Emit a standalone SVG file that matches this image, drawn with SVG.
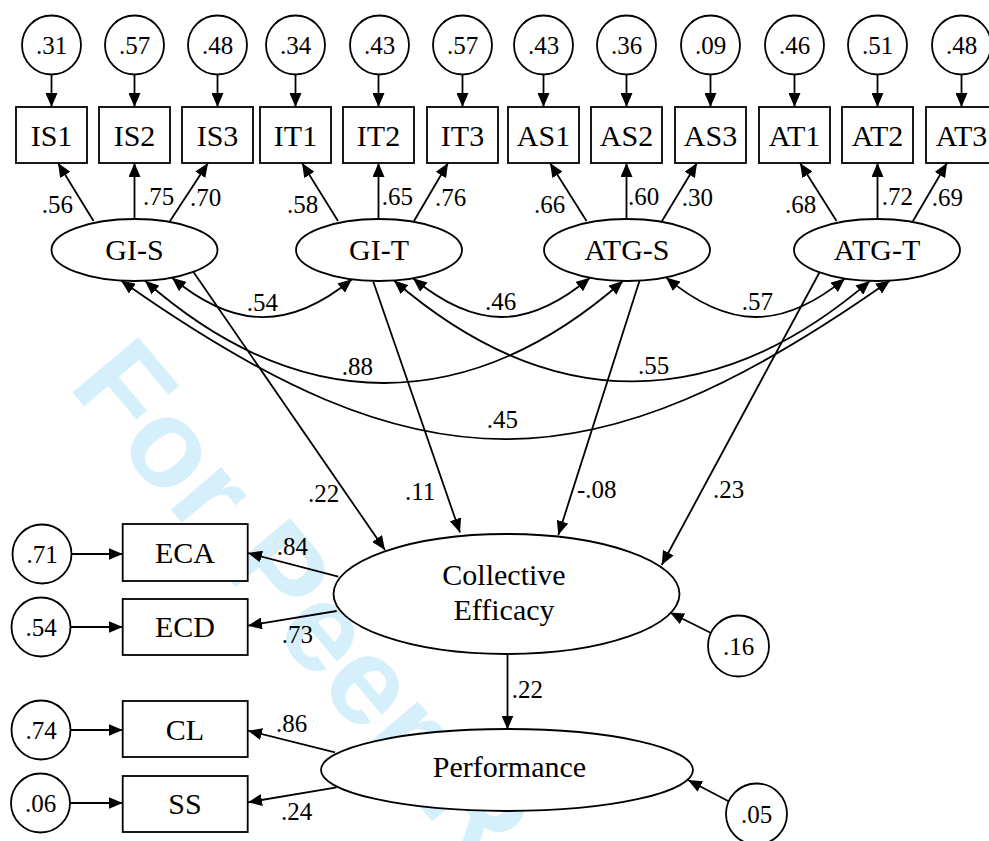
<svg xmlns="http://www.w3.org/2000/svg" width="989" height="841" viewBox="0 0 989 841">
  <defs>
    <marker id="arrow" viewBox="0 0 14 12" refX="14" refY="6" markerWidth="14" markerHeight="12" markerUnits="userSpaceOnUse" orient="auto-start-reverse">
      <path d="M0,0 L14,6 L0,12 z" fill="#000"/>
    </marker>
  </defs>
  <style>
    .node { fill: #fff; stroke: #000; stroke-width: 1.8; }
    text { font-family: 'Liberation Serif', 'Times New Roman', Tinos, 'DejaVu Serif', serif; fill: #000; }
    .big { font-size: 30px; text-anchor: middle; }
    .num { font-size: 25px; }
    .mid { text-anchor: middle; }
    .edge { fill: none; stroke: #000; stroke-width: 1.8; marker-end: url(#arrow); }
    .cov { fill: none; stroke: #000; stroke-width: 1.8; marker-start: url(#arrow); marker-end: url(#arrow); }
    text.wm { font-family: 'Liberation Sans', Arial, sans-serif; font-weight: bold; font-size: 125px; fill: #d6f0fb; }
  </style>

  <rect width="989" height="841" fill="#fff"/>

  <!-- review watermark, drawn beneath everything -->
  <text class="wm" transform="translate(67,386) rotate(50)">For Peer Review</text>

  <!-- connectors -->
  <g id="connectors">
    <!-- error terms into indicators -->
    <path class="edge" d="M51.5,75 V107"/>
    <path class="edge" d="M134.5,75 V107"/>
    <path class="edge" d="M217.5,75 V107"/>
    <path class="edge" d="M295.5,75 V107"/>
    <path class="edge" d="M378.5,75 V107"/>
    <path class="edge" d="M462.5,75 V107"/>
    <path class="edge" d="M543.5,75 V107"/>
    <path class="edge" d="M626.5,75 V107"/>
    <path class="edge" d="M710.5,75 V107"/>
    <path class="edge" d="M794.5,75 V107"/>
    <path class="edge" d="M877.5,75 V107"/>
    <path class="edge" d="M961.5,75 V107"/>

    <!-- factor loadings -->
    <path class="edge" d="M93.5,221 L58,163"/>
    <path class="edge" d="M134.5,219 V163"/>
    <path class="edge" d="M170,221 L208,163"/>
    <path class="edge" d="M338,221 L302,163"/>
    <path class="edge" d="M378.5,219 V163"/>
    <path class="edge" d="M414,221 L448,163"/>
    <path class="edge" d="M586.5,221 L550,163"/>
    <path class="edge" d="M626.5,219 V163"/>
    <path class="edge" d="M662,221 L697,163"/>
    <path class="edge" d="M836.5,221 L800,163"/>
    <path class="edge" d="M877.5,219 V163"/>
    <path class="edge" d="M913,221 L947,163"/>

    <!-- factor covariances -->
    <path class="cov" d="M172,277.7 C235,330 290,330 352,279.3"/>
    <path class="cov" d="M413,278.3 C476,330 527,330 590,277.7"/>
    <path class="cov" d="M666,277.4 C729,330 782,330 845,278.6"/>
    <path class="cov" d="M145,280.8 C300,417 468,417 623,281"/>
    <path class="cov" d="M394,280.5 C550,415 714,415 870,280.9"/>
    <path class="cov" d="M121,280.6 C420,492 590,492 890,280.6"/>

    <!-- structural paths -->
    <path class="edge" d="M193.3,271.7 L385,550"/>
    <path class="edge" d="M373.3,281.7 L460,532.5"/>
    <path class="edge" d="M640,279.3 L558.3,535"/>
    <path class="edge" d="M819.3,272.7 L661.7,565"/>
    <path class="edge" d="M507.5,654 V729.5"/>

    <!-- disturbances -->
    <path class="edge" d="M711,633 L670,612.5"/>
    <path class="edge" d="M729,801.5 L688,780"/>

    <!-- outcome indicators -->
    <path class="edge" d="M338.3,576.7 L248,553"/>
    <path class="edge" d="M336.7,611 L248,625.7"/>
    <path class="edge" d="M335,752.3 L248,730.7"/>
    <path class="edge" d="M336.7,787.3 L248,802.3"/>

    <!-- outcome error terms -->
    <path class="edge" d="M71.5,554 H122.7"/>
    <path class="edge" d="M70.7,627 H122.7"/>
    <path class="edge" d="M70.5,730 H122.7"/>
    <path class="edge" d="M70,803 H122.7"/>
  </g>

  <!-- connector values -->
  <g id="values" class="num">
    <text class="num" x="41.7" y="213">.56</text>
    <text class="num" x="143" y="205">.75</text>
    <text class="num" x="190" y="206">.70</text>
    <text class="num" x="287" y="213">.58</text>
    <text class="num" x="381.7" y="205">.65</text>
    <text class="num" x="435" y="206">.76</text>
    <text class="num" x="534" y="213">.66</text>
    <text class="num" x="628" y="205">.60</text>
    <text class="num" x="681.7" y="206">.30</text>
    <text class="num" x="785" y="213">.68</text>
    <text class="num" x="881.7" y="205">.72</text>
    <text class="num" x="931.7" y="206">.69</text>

    <text class="num" x="246.7" y="310.7">.54</text>
    <text class="num" x="485" y="310">.46</text>
    <text class="num" x="741.7" y="310">.57</text>
    <text class="num" x="341.7" y="375">.88</text>
    <text class="num" x="638" y="374">.55</text>
    <text class="num" x="486.7" y="428">.45</text>

    <text class="num" x="308" y="501.7">.22</text>
    <text class="num" x="405" y="500">.11</text>
    <text class="num" x="577" y="498">-.08</text>
    <text class="num" x="713" y="498">.23</text>
    <text class="num" x="511.7" y="698">.22</text>

    <text class="num" x="276.7" y="555">.84</text>
    <text class="num" x="281.7" y="643">.73</text>
    <text class="num" x="276" y="731.7">.86</text>
    <text class="num" x="281" y="820">.24</text>
  </g>

  <!-- error terms of the indicators -->
  <g id="e-IS1"><circle class="node" cx="51.5" cy="45" r="29.5"/><text class="num mid" x="51.5" y="53.5">.31</text></g>
  <g id="e-IS2"><circle class="node" cx="134.5" cy="45" r="29.5"/><text class="num mid" x="134.5" y="53.5">.57</text></g>
  <g id="e-IS3"><circle class="node" cx="217.5" cy="45" r="29.5"/><text class="num mid" x="217.5" y="53.5">.48</text></g>
  <g id="e-IT1"><circle class="node" cx="295.5" cy="45" r="29.5"/><text class="num mid" x="295.5" y="53.5">.34</text></g>
  <g id="e-IT2"><circle class="node" cx="379.5" cy="45" r="29.5"/><text class="num mid" x="379.5" y="53.5">.43</text></g>
  <g id="e-IT3"><circle class="node" cx="462.5" cy="45" r="29.5"/><text class="num mid" x="462.5" y="53.5">.57</text></g>
  <g id="e-AS1"><circle class="node" cx="543.5" cy="45" r="29.5"/><text class="num mid" x="543.5" y="53.5">.43</text></g>
  <g id="e-AS2"><circle class="node" cx="626.5" cy="45" r="29.5"/><text class="num mid" x="626.5" y="53.5">.36</text></g>
  <g id="e-AS3"><circle class="node" cx="710.5" cy="45" r="29.5"/><text class="num mid" x="710.5" y="53.5">.09</text></g>
  <g id="e-AT1"><circle class="node" cx="794.5" cy="45" r="29.5"/><text class="num mid" x="794.5" y="53.5">.46</text></g>
  <g id="e-AT2"><circle class="node" cx="877.5" cy="45" r="29.5"/><text class="num mid" x="877.5" y="53.5">.51</text></g>
  <g id="e-AT3"><circle class="node" cx="961.5" cy="45" r="29.5"/><text class="num mid" x="961.5" y="53.5">.48</text></g>

  <!-- indicators -->
  <g id="IS1"><rect class="node" x="16" y="107" width="71" height="56"/><text class="big" x="51.5" y="146">IS1</text></g>
  <g id="IS2"><rect class="node" x="99" y="107" width="71" height="56"/><text class="big" x="134.5" y="146">IS2</text></g>
  <g id="IS3"><rect class="node" x="182" y="107" width="71" height="56"/><text class="big" x="217.5" y="146">IS3</text></g>
  <g id="IT1"><rect class="node" x="260" y="107" width="71" height="56"/><text class="big" x="295.5" y="146">IT1</text></g>
  <g id="IT2"><rect class="node" x="343" y="107" width="71" height="56"/><text class="big" x="378.5" y="146">IT2</text></g>
  <g id="IT3"><rect class="node" x="427" y="107" width="71" height="56"/><text class="big" x="462.5" y="146">IT3</text></g>
  <g id="AS1"><rect class="node" x="508" y="107" width="71" height="56"/><text class="big" x="543.5" y="146">AS1</text></g>
  <g id="AS2"><rect class="node" x="591" y="107" width="71" height="56"/><text class="big" x="626.5" y="146">AS2</text></g>
  <g id="AS3"><rect class="node" x="675" y="107" width="71" height="56"/><text class="big" x="710.5" y="146">AS3</text></g>
  <g id="AT1"><rect class="node" x="759" y="107" width="71" height="56"/><text class="big" x="794.5" y="146">AT1</text></g>
  <g id="AT2"><rect class="node" x="842" y="107" width="71" height="56"/><text class="big" x="877.5" y="146">AT2</text></g>
  <g id="AT3"><rect class="node" x="926" y="107" width="71" height="56"/><text class="big" x="961.5" y="146">AT3</text></g>

  <!-- latent factors -->
  <g id="GI-S"><ellipse class="node" cx="134.5" cy="250" rx="83" ry="31"/><text class="big" x="134.5" y="260">GI-S</text></g>
  <g id="GI-T"><ellipse class="node" cx="379" cy="250" rx="83" ry="31"/><text class="big" x="379" y="260">GI-T</text></g>
  <g id="ATG-S"><ellipse class="node" cx="627" cy="250" rx="83" ry="31"/><text class="big" x="627" y="260">ATG-S</text></g>
  <g id="ATG-T"><ellipse class="node" cx="877" cy="250" rx="83" ry="31"/><text class="big" x="877" y="260">ATG-T</text></g>

  <!-- outcomes -->
  <g id="CollectiveEfficacy">
    <ellipse class="node" cx="506.5" cy="594" rx="173" ry="60"/>
    <text class="big" x="504" y="585">Collective</text>
    <text class="big" x="504" y="620">Efficacy</text>
  </g>
  <g id="Performance">
    <ellipse class="node" cx="507" cy="770" rx="186" ry="41"/>
    <text class="big" x="509.5" y="777">Performance</text>
  </g>
  <g id="d-CE"><circle class="node" cx="738.5" cy="646" r="30.5"/><text class="num mid" x="738.5" y="655">.16</text></g>
  <g id="d-Perf"><circle class="node" cx="756.5" cy="814" r="30.5"/><text class="num mid" x="756.5" y="823">.05</text></g>

  <!-- outcome indicators -->
  <g id="ECA"><rect class="node" x="122.7" y="524" width="125" height="57"/><text class="big" x="185" y="563">ECA</text></g>
  <g id="ECD"><rect class="node" x="122.7" y="599" width="125" height="56"/><text class="big" x="185" y="637">ECD</text></g>
  <g id="CL"><rect class="node" x="122.7" y="701" width="125" height="56"/><text class="big" x="185" y="740">CL</text></g>
  <g id="SS"><rect class="node" x="122.7" y="776" width="125" height="56"/><text class="big" x="185" y="814">SS</text></g>

  <g id="e-ECA"><circle class="node" cx="42" cy="554" r="29.5"/><text class="num mid" x="42" y="563">.71</text></g>
  <g id="e-ECD"><circle class="node" cx="41" cy="627" r="29.5"/><text class="num mid" x="41" y="636">.54</text></g>
  <g id="e-CL"><circle class="node" cx="41" cy="730" r="29.5"/><text class="num mid" x="41" y="739">.74</text></g>
  <g id="e-SS"><circle class="node" cx="40.5" cy="803" r="29.5"/><text class="num mid" x="40.5" y="812">.06</text></g>
</svg>
